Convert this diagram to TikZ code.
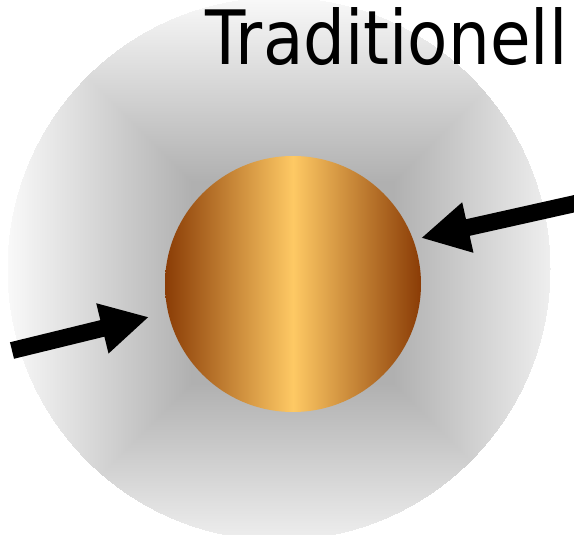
\documentclass[tikz,border=0pt]{standalone}
\usepackage{fontspec}
\setmainfont{DejaVu Sans}
\usetikzlibrary{arrows.meta,calc}
\definecolor{copperdark}{RGB}{138,60,6}
\definecolor{copperlight}{RGB}{254,201,100}
\tikzset{
  bigarrow/.style={line width=17pt, -{Triangle[length=48pt,width=48pt]}},
  copperball/.style={circle, minimum size=256pt, inner sep=0pt,
    left color=copperdark, right color=copperdark, middle color=copperlight},
  titletext/.style={anchor=base west, inner sep=0pt, font=\fontsize{75pt}{80pt}\selectfont}
}
\begin{document}
\begin{tikzpicture}[x=1pt,y=-1pt]
\useasboundingbox (0,0) rectangle (574,535);
\fill[white] (0,0) rectangle (574,535);
% grey disc with square shading
\coordinate (sc) at (293,283);
\begin{scope}
  \clip (279,269) circle (271pt);
  \foreach \d [evaluate=\d as \p using {max(1,28-0.155*(\d-120))}] in {300,299,...,100} {
    \fill[black!\p] ($(sc)+(-\d,-\d)$) rectangle ($(sc)+(\d,\d)$);
  }
\end{scope}
% copper ball
\node[copperball] (cu) at (293,284) {};
% arrows
\coordinate (rtail) at (582,202);
\coordinate (rtip) at (421,238);
\coordinate (ltail) at (12,350.5);
\coordinate (ltip) at (149,317);
\draw[bigarrow] (rtail) -- (rtip);
\draw[bigarrow] (ltail) -- (ltip);
% title
\node[titletext] (title) at (205,65) {\scalebox{0.88}[1]{Traditionell}};
\end{tikzpicture}
\end{document}
